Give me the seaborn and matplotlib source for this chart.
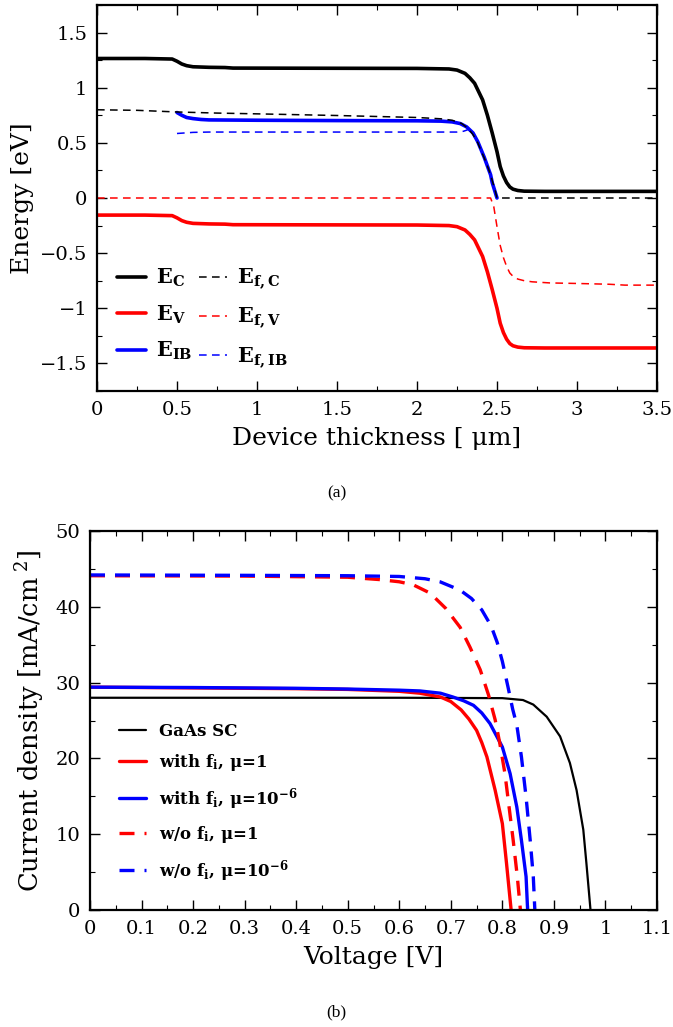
import numpy as np
import pandas as pd
import seaborn as sns
import matplotlib
matplotlib.use("Agg")
import matplotlib.pyplot as plt
from matplotlib.lines import Line2D
from matplotlib.ticker import MultipleLocator, FormatStrFormatter

# ---------------- data: (a) band diagram ----------------
ec_x = [0.0, 0.3, 0.47, 0.5, 0.53, 0.56, 0.6, 0.7, 0.8, 0.85, 1.2, 1.6, 2.0, 2.2, 2.25, 2.3, 2.33, 2.36,
        2.38, 2.41, 2.44, 2.47, 2.5, 2.52, 2.54, 2.56, 2.58, 2.6, 2.63, 2.67, 2.8, 3.2, 3.5]
ec_y = [1.265, 1.265, 1.26, 1.24, 1.215, 1.20, 1.19, 1.185, 1.183, 1.178, 1.177, 1.176, 1.175, 1.17, 1.16,
        1.13, 1.09, 1.04, 0.98, 0.89, 0.75, 0.59, 0.42, 0.285, 0.20, 0.14, 0.10, 0.08, 0.068, 0.062, 0.06, 0.06, 0.06]
ev_x = ec_x
ev_y = [-0.155, -0.155, -0.16, -0.18, -0.205, -0.22, -0.23, -0.235, -0.237, -0.242, -0.243, -0.244, -0.245,
        -0.25, -0.26, -0.29, -0.33, -0.38, -0.44, -0.53, -0.67, -0.83, -1.00, -1.135, -1.22, -1.28, -1.32,
        -1.34, -1.352, -1.358, -1.36, -1.36, -1.36]
eib_x = [0.5, 0.53, 0.56, 0.6, 0.65, 0.7, 1.0, 1.5, 2.0, 2.15, 2.22, 2.27, 2.31, 2.35, 2.38, 2.40, 2.42,
         2.44, 2.46, 2.47, 2.485, 2.5]
eib_y = [0.775, 0.75, 0.73, 0.72, 0.712, 0.708, 0.705, 0.702, 0.70, 0.697, 0.69, 0.675, 0.645, 0.59, 0.51,
         0.44, 0.37, 0.29, 0.21, 0.14, 0.07, 0.0]
efc_x = [0.0, 0.25, 0.5, 0.75, 1.0, 1.5, 2.0, 2.15, 2.22, 2.28, 2.32, 2.35, 2.38, 2.4, 2.43, 2.45, 2.47,
         2.49, 2.5, 2.6, 3.0, 3.5]
efc_y = [0.80, 0.795, 0.78, 0.77, 0.763, 0.748, 0.73, 0.718, 0.705, 0.675, 0.63, 0.575, 0.50, 0.43, 0.33,
         0.25, 0.16, 0.06, 0.0, 0.0, 0.0, 0.0]
efv_x = [0.0, 1.0, 2.0, 2.46, 2.48, 2.5, 2.52, 2.54, 2.56, 2.58, 2.6, 2.63, 2.67, 2.72, 2.83, 3.0, 3.2,
         3.3, 3.5]
efv_y = [0.0, 0.0, 0.0, 0.0, -0.08, -0.26, -0.43, -0.54, -0.62, -0.68, -0.71, -0.735, -0.75, -0.76, -0.77,
         -0.775, -0.782, -0.79, -0.79]
efib_x = [0.5, 0.55, 0.6, 0.7, 1.0, 1.5, 2.0, 2.25, 2.29, 2.31, 2.33]
efib_y = [0.585, 0.59, 0.595, 0.598, 0.598, 0.598, 0.598, 0.598, 0.605, 0.615, 0.63]

# ---------------- data: (b) J-V curves ----------------
gaas_v = [0.0, 0.2, 0.4, 0.6, 0.8, 0.84, 0.86, 0.886, 0.912, 0.931, 0.944, 0.957, 0.963, 0.971]
gaas_j = [28.0, 28.0, 28.0, 28.0, 27.95, 27.7, 27.1, 25.5, 22.9, 19.4, 15.8, 10.6, 6.2, 0.0]
wfi1_v = [0.0, 0.2, 0.4, 0.5, 0.6, 0.64, 0.68, 0.70, 0.72, 0.735, 0.75, 0.76, 0.77, 0.786, 0.80, 0.808, 0.817]
wfi1_j = [29.4, 29.3, 29.2, 29.1, 28.85, 28.6, 28.1, 27.5, 26.4, 25.2, 23.7, 22.1, 20.2, 15.8, 11.4, 6.2, 0.0]
wfi6_v = [0.0, 0.2, 0.4, 0.5, 0.6, 0.64, 0.68, 0.704, 0.725, 0.744, 0.76, 0.776, 0.79, 0.80, 0.815, 0.828,
          0.837, 0.846, 0.849]
wfi6_j = [29.4, 29.35, 29.25, 29.15, 29.0, 28.9, 28.6, 28.1, 27.6, 27.0, 26.0, 24.6, 22.8, 21.5, 18.0, 13.6,
          9.2, 4.4, 0.0]
wo1_v = [0.0, 0.3, 0.5, 0.56, 0.6, 0.627, 0.66, 0.69, 0.718, 0.737, 0.757, 0.773, 0.786, 0.795, 0.805,
         0.813, 0.821, 0.829, 0.835]
wo1_j = [44.1, 44.05, 43.9, 43.6, 43.3, 42.9, 41.8, 39.8, 37.3, 34.7, 31.7, 28.4, 25.1, 22.0, 18.0, 13.6,
         9.2, 4.4, 0.0]
wo6_v = [0.0, 0.3, 0.5, 0.6, 0.65, 0.679, 0.718, 0.74, 0.76, 0.778, 0.79, 0.80, 0.811, 0.82, 0.828, 0.837,
         0.846, 0.854, 0.86, 0.863]
wo6_j = [44.2, 44.15, 44.1, 44.0, 43.7, 43.3, 42.2, 41.1, 39.6, 37.5, 35.3, 32.8, 29.4, 26.5, 24.4, 20.2,
         14.9, 9.2, 4.4, 0.0]

band_labels = [r'$\mathbf{E_C}$', r'$\mathbf{E_V}$', r'$\mathbf{E_{IB}}$',
               r'$\mathbf{E_{f,C}}$', r'$\mathbf{E_{f,V}}$', r'$\mathbf{E_{f,IB}}$']
jv_labels = ['GaAs SC', r'with f$_{\mathbf{i}}$, μ=1', r'with f$_{\mathbf{i}}$, μ=10$^{\mathbf{-6}}$',
             r'w/o f$_{\mathbf{i}}$, μ=1', r'w/o f$_{\mathbf{i}}$, μ=10$^{\mathbf{-6}}$']

# ---------------- styling ----------------
sns.set_theme(style="ticks")
plt.rcParams['font.family'] = ['DejaVu Serif']
plt.rcParams['mathtext.fontset'] = 'dejavuserif'
plt.rcParams['axes.linewidth'] = 1.6
plt.rcParams['axes.edgecolor'] = 'black'
plt.rcParams['axes.labelcolor'] = 'black'
plt.rcParams['text.color'] = 'black'
for ax_ in ['xtick', 'ytick']:
    plt.rcParams[f'{ax_}.direction'] = 'in'
    plt.rcParams[f'{ax_}.major.size'] = 7
    plt.rcParams[f'{ax_}.minor.size'] = 3.5
    plt.rcParams[f'{ax_}.major.width'] = 1.0
    plt.rcParams[f'{ax_}.minor.width'] = 0.8
    plt.rcParams[f'{ax_}.color'] = 'black'
    plt.rcParams[f'{ax_}.labelcolor'] = 'black'
plt.rcParams['xtick.top'] = True
plt.rcParams['ytick.right'] = True

fig = plt.figure(figsize=(6.73, 10.27), dpi=100)
W, H = 673.0, 1027.0
ax1 = fig.add_axes([97 / W, 1 - 391 / H, (657 - 97) / W, (391 - 5) / H])
ax2 = fig.add_axes([90 / W, 1 - 910 / H, (657 - 90) / W, (910 - 531) / H])

# ---- (a)
solid_lw = 2.6
dash_lw = 1.1
dstyle = (0, (5, 3.5))
band_series = [
    (ec_x, ec_y, 'black', solid_lw, '-'),
    (ev_x, ev_y, '#ff0000', solid_lw, '-'),
    (eib_x, eib_y, '#0000ff', solid_lw, '-'),
    (efc_x, efc_y, 'black', dash_lw, dstyle),
    (efv_x, efv_y, '#ff0000', dash_lw, dstyle),
    (efib_x, efib_y, '#0000ff', dash_lw, dstyle),
]
for xs, ys, c, lw, ls in band_series:
    sns.lineplot(x=xs, y=ys, ax=ax1, color=c, linewidth=lw, linestyle=ls, sort=False,
                 estimator=None, legend=False)

ax1.set_xlim(0, 3.5)
ax1.set_ylim(-1.75, 1.75)
ax1.xaxis.set_major_locator(MultipleLocator(0.5))
ax1.xaxis.set_minor_locator(MultipleLocator(0.25))
ax1.yaxis.set_major_locator(MultipleLocator(0.5))
ax1.yaxis.set_minor_locator(MultipleLocator(0.25))
ax1.xaxis.set_major_formatter(FormatStrFormatter('%g'))
ax1.yaxis.set_major_formatter(plt.FuncFormatter(lambda v, p: ('%g' % v).replace('-', '\u2212')))
ax1.tick_params(which='both', top=True, right=True, labelsize=14, pad=7, colors='black')
ax1.set_xlabel('Device thickness [ μm]', fontsize=18, labelpad=6)
ax1.set_ylabel('Energy [eV]', fontsize=18, labelpad=4)

h1 = [Line2D([], [], color=c, lw=lw, ls=ls) for _, _, c, lw, ls in band_series]
leg1 = ax1.legend(h1, band_labels, ncol=2, loc='lower left', bbox_to_anchor=(0.003, 0.004),
                  frameon=False, fontsize=15, handlelength=1.35, columnspacing=0.3,
                  labelspacing=0.68, handletextpad=0.5)

# ---- (b)
jv_series = [
    (gaas_v, gaas_j, 'black', 1.6, '-'),
    (wfi1_v, wfi1_j, '#ff0000', 2.4, '-'),
    (wfi6_v, wfi6_j, '#0000ff', 2.4, '-'),
    (wo1_v, wo1_j, '#ff0000', 2.4, (0, (4.5, 3))),
    (wo6_v, wo6_j, '#0000ff', 2.4, (0, (4.5, 3))),
]
for xs, ys, c, lw, ls in jv_series:
    sns.lineplot(x=xs, y=ys, ax=ax2, color=c, linewidth=lw, linestyle=ls, sort=False,
                 estimator=None, legend=False)

ax2.set_xlim(0, 1.1)
ax2.set_ylim(0, 50)
ax2.xaxis.set_major_locator(MultipleLocator(0.1))
ax2.xaxis.set_minor_locator(MultipleLocator(0.05))
ax2.yaxis.set_major_locator(MultipleLocator(10))
ax2.yaxis.set_minor_locator(MultipleLocator(5))
ax2.xaxis.set_major_formatter(FormatStrFormatter('%g'))
ax2.yaxis.set_major_formatter(FormatStrFormatter('%g'))
ax2.tick_params(which='both', top=True, right=True, labelsize=14, pad=7, colors='black')
ax2.set_xlabel('Voltage [V]', fontsize=18, labelpad=6)
ax2.set_ylabel(r'Current density [mA/cm$^{\ 2}$]', fontsize=18.5, labelpad=6)

h2 = [Line2D([], [], color=c, lw=lw, ls=ls) for _, _, c, lw, ls in jv_series]
leg2 = ax2.legend(h2, jv_labels, loc='lower left', bbox_to_anchor=(0.025, 0.03),
                  frameon=False, prop={'family': 'DejaVu Serif', 'weight': 'bold', 'size': 12},
                  handlelength=1.6, labelspacing=0.75, handletextpad=0.8)

fig.text(0.5, 1 - 493 / H, '(a)', ha='center', va='center', fontsize=12.5, family='Liberation Serif')
fig.text(0.5, 1 - 1012 / H, '(b)', ha='center', va='center', fontsize=12.5, family='Liberation Serif')

fig.savefig('out.png', dpi=100)
